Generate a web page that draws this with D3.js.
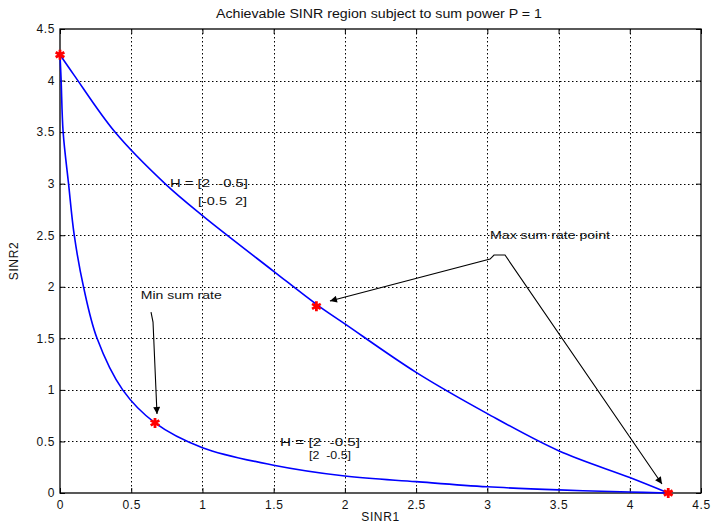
<!DOCTYPE html>
<html><head><meta charset="utf-8">
<script src="https://cdn.jsdelivr.net/npm/d3@7"></script>
<style>
body{margin:0;background:#fff}
svg{display:block}
text{font-family:"Liberation Sans",Arial,Helvetica,sans-serif;fill:#111}
</style>
</head><body>
<svg id="c" width="711" height="525"></svg>
<script>
// ---- data ----
const chartTitle = "Achievable SINR region subject to sum power P = 1";
const xLabel = "SINR1";
const yLabel = "SINR2";
const xTicks = [0, 0.5, 1, 1.5, 2, 2.5, 3, 3.5, 4, 4.5];
const yTicks = [0, 0.5, 1, 1.5, 2, 2.5, 3, 3.5, 4, 4.5];
const xTickLabels = ["0", "0.5", "1", "1.5", "2", "2.5", "3", "3.5", "4", "4.5"];
const yTickLabels = ["0", "0.5", "1", "1.5", "2", "2.5", "3", "3.5", "4", "4.5"];

// upper boundary, H = [2 -0.5; -0.5 2]
const upperX = [0, 0.1, 0.386, 0.737, 1.0, 1.5, 1.8, 2.0, 2.5, 3.0, 3.5, 4.0, 4.27];
const upperY = [4.25, 4.05, 3.5, 3.0, 2.69, 2.15, 1.83, 1.64, 1.17, 0.77, 0.41, 0.15, 0];
// lower boundary, H = [2 -0.5; 2 -0.5]
const lowerX = [0, 0.008, 0.022, 0.06, 0.1, 0.165, 0.26, 0.44, 0.667, 1.0, 1.5, 2.0, 2.5, 3.0, 3.5, 4.0, 4.27];
const lowerY = [4.25, 4.0, 3.5, 3.0, 2.5, 2.0, 1.5, 1.0, 0.68, 0.44, 0.27, 0.165, 0.11, 0.06, 0.03, 0.01, 0];
// marked points
const markX = [0, 1.8, 0.667, 4.27];
const markY = [4.25, 1.81, 0.68, 0];

// annotations (data units)
const labelTexts = ["H = [2  -0.5]", "[-0.5  2]", "H = [2  -0.5]", "[2  -0.5]", "Max sum rate point", "Min sum rate"];
const labelX = [0.772, 0.969, 1.545, 1.748, 3.019, 0.567];
const labelY = [2.968, 2.793, 0.456, 0.33, 2.459, 1.877];
const labelW = [78, 49, 80, 42, 120, 81];
const maxArrowX = [1.895, 3.019, 3.047, 3.124, 4.226];
const maxArrowY = [1.862, 2.269, 2.308, 2.308, 0.087];
const minArrowX = [0.639, 0.653, 0.681];
const minArrowY = [1.755, 1.658, 0.766];

// ---- layout ----
const W = 711, H = 525;
const m = {left: 60, top: 29, right: 10, bottom: 32};
const svg = d3.select("#c");
const x = d3.scaleLinear().domain([0, 4.5]).range([m.left, W - m.right]);
const y = d3.scaleLinear().domain([0, 4.5]).range([H - m.bottom, m.top]);

// grid
const grid = svg.append("g").attr("stroke", "#000").attr("stroke-width", 1)
  .attr("stroke-dasharray", "1.5,2.5").attr("fill", "none");
xTicks.slice(1, -1).forEach(t => grid.append("line")
  .attr("x1", Math.round(x(t)) + 0.5).attr("x2", Math.round(x(t)) + 0.5)
  .attr("y1", y(4.5)).attr("y2", y(0)));
yTicks.slice(1, -1).forEach(t => grid.append("line")
  .attr("y1", Math.round(y(t)) + 0.5).attr("y2", Math.round(y(t)) + 0.5)
  .attr("x1", x(0)).attr("x2", x(4.5)));

// axes
const fmtX = (d, i) => xTickLabels[i];
const fmtY = (d, i) => yTickLabels[i];
const gx = svg.append("g").attr("transform", `translate(0,${y(0)})`)
  .call(d3.axisBottom(x).tickValues(xTicks).tickFormat(fmtX).tickSize(-5).tickPadding(7));
const gy = svg.append("g").attr("transform", `translate(${x(0)},0)`)
  .call(d3.axisLeft(y).tickValues(yTicks).tickFormat(fmtY).tickSize(-5).tickPadding(5));
const gt = svg.append("g").attr("transform", `translate(0,${y(4.5)})`)
  .call(d3.axisTop(x).tickValues(xTicks).tickFormat("").tickSize(-5));
const gr = svg.append("g").attr("transform", `translate(${x(4.5)},0)`)
  .call(d3.axisRight(y).tickValues(yTicks).tickFormat("").tickSize(-5));
[gx, gy, gt, gr].forEach(g => {
  g.select(".domain").remove();
  g.selectAll("line").attr("stroke", "#000");
  g.selectAll("text").attr("font-size", 12).attr("font-family", "Liberation Sans, Arial, sans-serif")
    .attr("fill", "#111").style("letter-spacing", "0.6px");
});

// box
svg.append("rect").attr("x", x(0)).attr("y", y(4.5))
  .attr("width", x(4.5) - x(0)).attr("height", y(0) - y(4.5))
  .attr("fill", "none").attr("stroke", "#000").attr("stroke-width", 1.3);

// curves
const line = d3.line().x(d => x(d[0])).y(d => y(d[1])).curve(d3.curveCatmullRom.alpha(0.5));
const upper = upperX.map((v, i) => [v, upperY[i]]);
const lower = lowerX.map((v, i) => [v, lowerY[i]]);
[upper, lower].forEach(data => svg.append("path").datum(data).attr("d", line)
  .attr("fill", "none").attr("stroke", "#0000ff").attr("stroke-width", 1.6));

// markers
const sym = d3.symbolAsterisk || d3.symbolStar;
markX.forEach((v, i) => {
  svg.append("path").attr("d", d3.symbol(sym, 70)())
    .attr("transform", `translate(${x(v)},${y(markY[i])})`)
    .attr("fill", "#ff0000").attr("stroke", "#ff0000").attr("stroke-width", 2.8);
});

// arrow marker
const defs = svg.append("defs");
defs.append("marker").attr("id", "ah").attr("viewBox", "0 0 10 10")
  .attr("refX", 10).attr("refY", 5).attr("markerUnits", "userSpaceOnUse")
  .attr("markerWidth", 10).attr("markerHeight", 7).attr("orient", "auto")
  .append("path").attr("d", "M0,0 L10,5 L0,10 Z").attr("fill", "#000");
defs.append("marker").attr("id", "ahs").attr("viewBox", "0 0 10 10")
  .attr("refX", 0).attr("refY", 5).attr("markerUnits", "userSpaceOnUse")
  .attr("markerWidth", 10).attr("markerHeight", 7).attr("orient", "auto")
  .append("path").attr("d", "M10,0 L0,5 L10,10 Z").attr("fill", "#000");

const plain = d3.line().x(d => x(d[0])).y(d => y(d[1]));
svg.append("path").datum(maxArrowX.map((v, i) => [v, maxArrowY[i]])).attr("d", plain)
  .attr("fill", "none").attr("stroke", "#000").attr("stroke-width", 1.1)
  .attr("marker-start", "url(#ahs)").attr("marker-end", "url(#ah)");
svg.append("path").datum(minArrowX.map((v, i) => [v, minArrowY[i]])).attr("d", plain)
  .attr("fill", "none").attr("stroke", "#000").attr("stroke-width", 1.1)
  .attr("marker-end", "url(#ah)");

// annotation text
labelTexts.forEach((t, i) => {
  svg.append("text").attr("x", x(labelX[i])).attr("y", y(labelY[i]))
    .attr("font-size", 11.5).attr("textLength", labelW[i]).attr("lengthAdjust", "spacingAndGlyphs")
    .style("white-space", "pre").text(t);
});

// title & axis labels
svg.append("text").attr("x", 379).attr("y", 17.5).attr("text-anchor", "middle")
  .attr("font-size", 12.5).attr("textLength", 326).attr("lengthAdjust", "spacingAndGlyphs")
  .text(chartTitle);
svg.append("text").attr("x", (x(0) + x(4.5)) / 2).attr("y", 521).attr("text-anchor", "middle")
  .attr("font-size", 12).style("letter-spacing", "0.6px").text(xLabel);
svg.append("text").attr("transform", `translate(18,${(y(0) + y(4.5)) / 2}) rotate(-90)`)
  .attr("text-anchor", "middle").attr("font-size", 12).style("letter-spacing", "0.6px").text(yLabel);
</script>
</body></html>
